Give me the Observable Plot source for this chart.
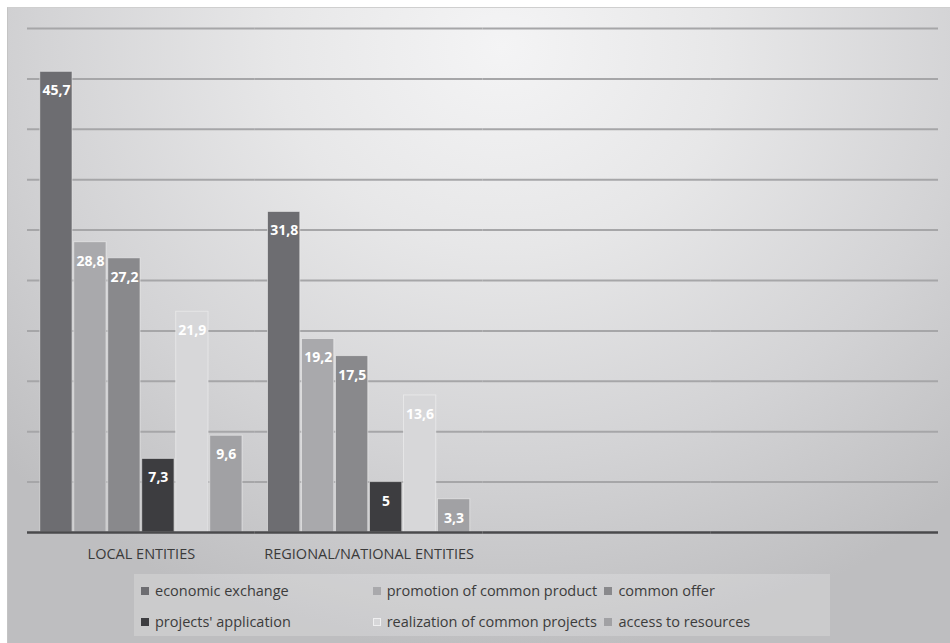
<!DOCTYPE html>
<html>
<head>
<meta charset="utf-8">
<script src="https://cdn.jsdelivr.net/npm/d3@7"></script>
<script src="https://cdn.jsdelivr.net/npm/@observablehq/plot@0.6"></script>
<style>
  html, body { margin: 0; padding: 0; background: #ffffff; }
  body { width: 950px; height: 643px; position: relative; overflow: hidden; font-family: "Open Sans", Lato, sans-serif; }
  #bg { position: absolute; left: 7px; top: 7px; width: 950px; height: 640px;
        background: radial-gradient(ellipse 72% 95% at 52% 6%, #f4f4f5 0%, #e7e7e8 33%, #d3d3d5 68%, #bebec0 100%);
        border-top: 1px solid #cfcfcf; border-left: 1px solid #c4c4c4; }
  #chart { position: absolute; left: 0; top: 0; }
  #legend { position: absolute; left: 134px; top: 574px; width: 696px; height: 62px;
            background: rgba(255,255,255,0.2); box-sizing: border-box; padding: 8px 0 0 7px;
            display: grid; grid-template-columns: 231.7px 231.7px auto; grid-auto-rows: 18px; row-gap: 12.5px; column-gap: 0;
            font-size: 14.5px; color: #3c3c3c; }
  .item { display: flex; align-items: center; white-space: nowrap; height: 18px; line-height: 18px; }
  .sw { width: 8px; height: 8px; margin-right: 6px; flex: none; }
</style>
</head>
<body>
<div id="bg"></div>
<div id="chart"></div>
<div id="legend"></div>
<script>
// Categories (groups) and series
const categories = ["LOCAL ENTITIES", "REGIONAL/NATIONAL ENTITIES"];
const emptySlots = ["_empty1", "_empty2"];
const series = ["economic exchange", "promotion of common product", "common offer",
                "projects' application", "realization of common projects", "access to resources"];
const localValues = [45.7, 28.8, 27.2, 7.3, 21.9, 9.6];
const regionalValues = [31.8, 19.2, 17.5, 5, 13.6, 3.3];
const colors = ["#6d6d71", "#a9a9ac", "#89898c", "#3d3d40", "#d7d7d9", "#a1a1a4"];
const yTicks = [5, 10, 15, 20, 25, 30, 35, 40, 45, 50];

const slots = [...categories, ...emptySlots];

const data = [];
series.forEach((s, i) => {
  data.push({group: categories[0], series: s, value: localValues[i]});
  data.push({group: categories[1], series: s, value: regionalValues[i]});
});

// gridlines drawn in every column slot (so empty slots are kept too)
const gridData = slots.flatMap(g => yTicks.map(t => ({group: g, tick: t})));
const baseData = slots.map(g => ({group: g, tick: 0}));

const fmt = v => String(v).replace(".", ",");
const font = "'Open Sans', Lato, sans-serif";

const chart = Plot.plot({
  width: 950,
  height: 570,
  marginLeft: 27,
  marginRight: 12,
  marginTop: 28,
  marginBottom: 38,
  style: {background: "transparent", fontFamily: font},
  fx: {domain: slots, padding: 0, label: null, axis: null, round: false},
  x: {domain: series, paddingInner: 0.05, paddingOuter: 0.375, axis: null, round: false},
  y: {domain: [0, 50], axis: null},
  color: {domain: series, range: colors},
  marks: [
    Plot.ruleY(gridData, {fx: "group", y: "tick", stroke: "#a6a6a8", strokeWidth: 2}),
    Plot.barY(data, {fx: "group", x: "series", y: "value", fill: "series",
                     stroke: "#f4f4f4", strokeOpacity: 0.55, strokeWidth: 1}),
    Plot.text(data, {fx: "group", x: "series", y: "value", text: d => fmt(d.value),
                     dy: 19, fill: "white", fontWeight: "bold", fontSize: 14}),
    Plot.ruleY(baseData, {fx: "group", y: "tick", stroke: "#4a4a4c", strokeWidth: 2.5}),
    Plot.axisFx({anchor: "bottom", tickSize: 0, tickPadding: 16, fontSize: 14.5,
                 tickFormat: d => emptySlots.includes(d) ? "" : d, label: null, color: "#3a3a3a"})
  ]
});
document.getElementById("chart").appendChild(chart);

const legend = document.getElementById("legend");
series.forEach((s, i) => {
  const item = document.createElement("div");
  item.className = "item";
  const sw = document.createElement("span");
  sw.className = "sw";
  sw.style.background = colors[i];
  if (i === 4) sw.style.boxShadow = "0 0 0 1px rgba(255,255,255,0.6) inset";
  item.appendChild(sw);
  item.appendChild(document.createTextNode(s));
  legend.appendChild(item);
});
</script>
</body>
</html>
